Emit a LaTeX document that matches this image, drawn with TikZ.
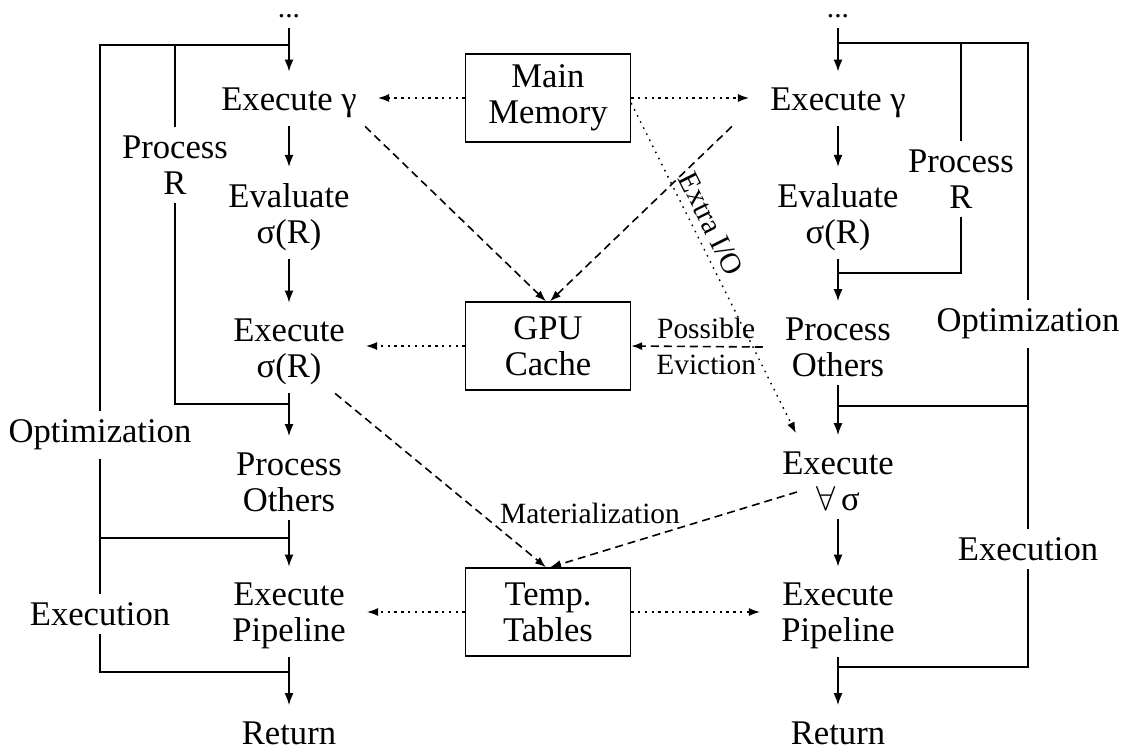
\documentclass[tikz,border=0pt]{standalone}
\usepackage{fontspec}
\setmainfont{Liberation Serif}
\usetikzlibrary{arrows.meta,positioning}
\newcommand\nodefont{\fontsize{17.3}{18}\selectfont}
\newcommand\lblfont{\fontsize{14.7}{18}\selectfont}

\begin{document}
\begin{tikzpicture}[
    x=0.5pt, y=-0.5pt,
    every node/.style={font=\nodefont, align=center, inner sep=4pt},
    store/.style={draw, line width=0.7pt, minimum width=82.5pt, minimum height=44pt},
    lbl/.style={font=\lblfont, inner sep=1pt},
    flow/.style={line width=0.8pt, -{Latex[length=6pt,width=4.5pt]}, shorten >=4pt},
    phase/.style={line width=0.8pt},
    fetch/.style={line width=0.55pt, dash pattern=on 1.2pt off 2.2pt,
                  -{Latex[length=5.5pt,width=4pt]}, shorten >=6.5pt},
    spill/.style={line width=0.8pt, dash pattern=on 4pt off 2.5pt,
                  -{Latex[length=5.5pt,width=4pt]}},
    io/.style={line width=0.7pt, dash pattern=on 0.8pt off 2.6pt,
               -{Latex[length=5.5pt,width=4pt]}}]

\useasboundingbox (0,0) rectangle (1131,751);

% left plan
\node[lbl, inner sep=5pt] (dotsL) at (289,16) {...};
\node (exgL) at (289,103) {Execute γ};
\node (evlL) at (289,217) {Evaluate\\σ(R)};
\node (exsL) at (289,352) {Execute\\σ(R)};
\node (proL) at (289,482) {Process\\Others};
\node (pipL) at (289,616) {Execute\\Pipeline};
\node (retL) at (289,733) {Return};
\node (prRL) at (175,165) {Process\\R};
\node (optL) at (100,435) {Optimization};
\node (exeL) at (100,614) {Execution};

% right plan
\node[lbl, inner sep=5pt] (dotsR) at (838,16) {...};
\node (exgR) at (838,103) {Execute γ};
\node (evlR) at (838,217) {Evaluate\\σ(R)};
\node (proR) at (838,347) {Process\\Others};
\node (exaR) at (838,481) {Execute\\$\forall$\,σ};
\node (pipR) at (838,616) {Execute\\Pipeline};
\node (retR) at (838,733) {Return};
\node (prRR) at (961,179) {Process\\R};
\node (optR) at (1028,324) {Optimization};
\node (exeR) at (1028,549) {Execution};

% storage
\node[store] (mem) at (548,98) {Main\\Memory};
\node[store] (gpu) at (548,346) {GPU\\Cache};
\node[store] (tmp) at (548,612) {Temp.\\Tables};
\node[lbl] (matl) at (590,513) {Materialization};

\coordinate (jTopL) at (289,45);
\coordinate (jSelL) at (289,404);
\coordinate (jExeL) at (289,538);
\coordinate (jRetL) at (289,672);
\coordinate (jTopR) at (838,43);
\coordinate (jSelR) at (838,273);
\coordinate (jExeR) at (838,406);
\coordinate (jRetR) at (838,667);

\draw[flow] (dotsL) -- (exgL);
\draw[flow] (exgL) -- (evlL);
\draw[flow] (evlL) -- (exsL);
\draw[flow] (exsL) -- (proL);
\draw[flow] (proL) -- (pipL);
\draw[flow] (pipL) -- (retL);

\draw[flow] (dotsR) -- (exgR);
\draw[flow] (exgR) -- (evlR);
\draw[flow] (evlR) -- (proR);
\draw[flow] (proR) -- (exaR);
\draw[flow] (exaR) -- (pipR);
\draw[flow] (pipR) -- (retR);

% phases
\draw[phase] (optL.north) |- (jTopL);
\draw[phase] (prRL.north) -- (prRL.north |- jTopL);
\draw[phase] (prRL.south) |- (jSelL);
\draw[phase] (optL.south) -- (exeL.north);
\draw[phase] (jExeL -| exeL) -- (jExeL);
\draw[phase] (exeL.south) |- (jRetL);

\draw[phase] (optR.north) |- (jTopR);
\draw[phase] (prRR.north) -- (prRR.north |- jTopR);
\draw[phase] (prRR.south) |- (jSelR);
\draw[phase] (optR.south) -- (exeR.north);
\draw[phase] (jExeR -| exeR) -- (jExeR);
\draw[phase] (exeR.south) |- (jRetR);

% data movement
\draw[fetch] (mem.west) -- (mem.west -| exgL.east);
\draw[fetch] (mem.east) -- (mem.east -| exgR.west);
\draw[fetch] (gpu.west) -- (gpu.west -| exsL.east);
\draw[fetch] (tmp.west) -- (tmp.west -| pipL.east);
\draw[fetch] (tmp.east) -- (tmp.east -| pipR.west);

\draw[spill] (exgL.south east) -- ([xshift=-1pt]gpu.north);
\draw[spill] ([xshift=-15pt]exgR.south west) -- ([xshift=1pt]gpu.north);
\draw[spill] ([xshift=-9pt]exsL.south east) -- ([xshift=-1pt]tmp.north);
\draw[spill] ([shift={(11.5pt,-5.5pt)}]exaR.west) -- ([xshift=1pt]tmp.north);
\draw[spill] ([xshift=-7pt]proR.west) -- (gpu.east)
    node[lbl, pos=0.43] {Possible\\Eviction};

\draw[io] ([yshift=-2.5pt]mem.east) -- ([shift={(11pt,5pt)}]exaR.north west)
    node[lbl, sloped, above=2.5pt, pos=0.39] {Extra I/O};

\end{tikzpicture}
\end{document}
